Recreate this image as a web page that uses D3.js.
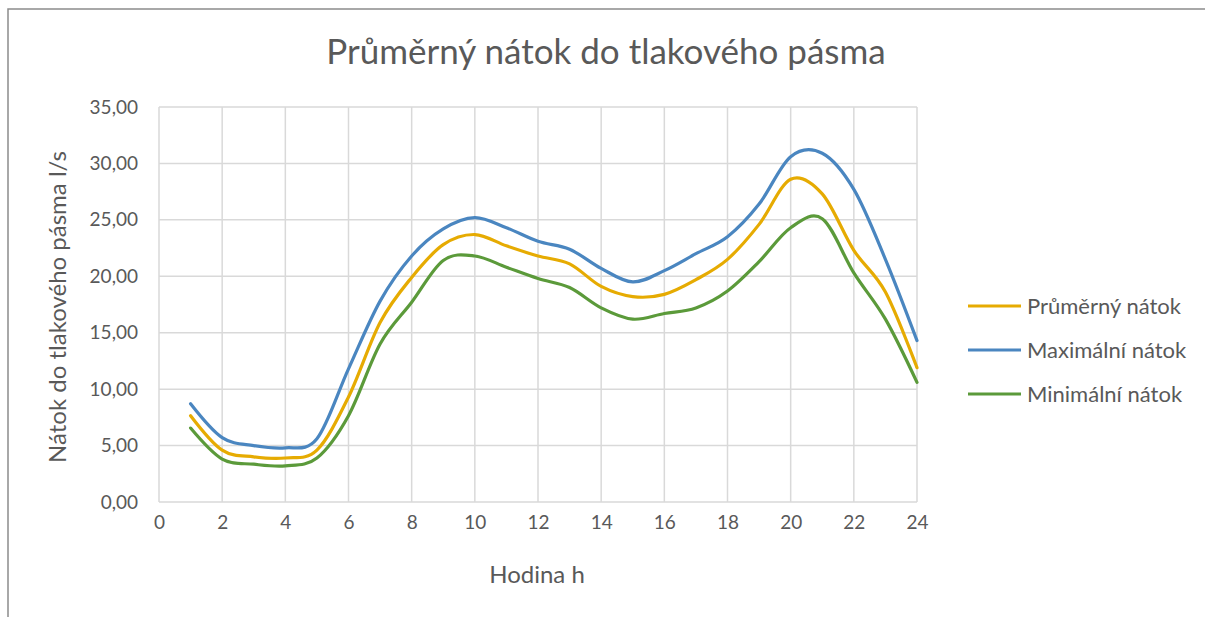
<!DOCTYPE html>
<html>
<head>
<meta charset="utf-8">
<script src="https://cdn.jsdelivr.net/npm/d3@7"></script>
<style>
  body { margin: 0; background: #fff; }
  text { font-family: Lato, "Open Sans", sans-serif; fill: #595959; }
</style>
</head>
<body>
<script>
// hourly values
const hours = d3.range(1, 25);
const prumerny = [7.65, 4.6, 4.0, 3.9, 4.6, 9.3, 15.9, 19.9, 22.8, 23.7, 22.7, 21.8, 21.1, 19.1, 18.2, 18.4, 19.7, 21.5, 24.6, 28.6, 27.3, 22.3, 18.6, 11.9];
const maximalni = [8.7, 5.7, 5.0, 4.8, 5.6, 11.8, 17.8, 21.8, 24.2, 25.2, 24.3, 23.1, 22.4, 20.7, 19.5, 20.5, 22.0, 23.5, 26.4, 30.6, 30.9, 27.7, 21.5, 14.3];
const minimalni = [6.55, 3.8, 3.35, 3.2, 3.9, 7.65, 14.0, 17.7, 21.4, 21.8, 20.8, 19.8, 19.0, 17.2, 16.2, 16.7, 17.2, 18.7, 21.3, 24.3, 25.1, 20.3, 16.2, 10.6];

const series = [
  { name: "Průměrný nátok", values: prumerny, color: "#e6ab02" },
  { name: "Maximální nátok", values: maximalni, color: "#4a86c0" },
  { name: "Minimální nátok", values: minimalni, color: "#5b9a3a" }
];
const xTicks = d3.range(0, 25, 2);
const yTicks = d3.range(0, 36, 5);

const width = 1205, height = 617;
const plotL = 159, plotR = 917, plotT = 107, plotB = 502;

const svg = d3.select("body").append("svg")
  .attr("width", width)
  .attr("height", height);

// outer frame (only top and left edges are visible in the crop)
svg.append("path")
  .attr("d", `M8,${height} L8,9 L${width},9`)
  .attr("fill", "none")
  .attr("stroke", "#8c8c8c")
  .attr("stroke-width", 1.5);

const x = d3.scaleLinear().domain([0, 24]).range([plotL, plotR]);
const y = d3.scaleLinear().domain([0, 35]).range([plotB, plotT]);

// grid
const grid = svg.append("g").attr("stroke", "#d9d9d9").attr("stroke-width", 1.5);
grid.selectAll("line.h").data(yTicks).join("line")
  .attr("x1", plotL).attr("x2", plotR)
  .attr("y1", d => y(d)).attr("y2", d => y(d));
grid.selectAll("line.v").data(xTicks).join("line")
  .attr("y1", plotT).attr("y2", plotB)
  .attr("x1", d => x(d)).attr("x2", d => x(d));

// axes
const fmt = d => d3.format(".2f")(d).replace(".", ",");
const yAxis = svg.append("g")
  .attr("transform", `translate(${plotL},0)`)
  .call(d3.axisLeft(y).tickValues(yTicks).tickFormat(fmt).tickSize(0).tickPadding(21));
yAxis.select(".domain").remove();
yAxis.selectAll("text").style("font-size", "19px").attr("fill", "#595959");

const xAxis = svg.append("g")
  .attr("transform", `translate(0,${plotB})`)
  .call(d3.axisBottom(x).tickValues(xTicks).tickFormat(d3.format("d")).tickSize(0).tickPadding(14));
xAxis.select(".domain").remove();
xAxis.selectAll("text").style("font-size", "19px").attr("fill", "#595959");

// lines
const line = d3.line()
  .x((d, i) => x(hours[i]))
  .y(d => y(d))
  .curve(d3.curveCatmullRom.alpha(0));

svg.append("g").selectAll("path").data(series).join("path")
  .attr("d", d => line(d.values))
  .attr("fill", "none")
  .attr("stroke", d => d.color)
  .attr("stroke-width", 3.2)
  .attr("stroke-linecap", "round");

// title
svg.append("text")
  .attr("x", 606).attr("y", 64)
  .attr("text-anchor", "middle")
  .style("font-size", "35px")
  .text("Průměrný nátok do tlakového pásma");

// axis titles
svg.append("text")
  .attr("x", 537).attr("y", 583)
  .attr("text-anchor", "middle")
  .style("font-size", "24px")
  .text("Hodina h");

svg.append("text")
  .attr("transform", "translate(66,307) rotate(-90)")
  .attr("text-anchor", "middle")
  .style("font-size", "24px")
  .text("Nátok do tlakového pásma l/s");

// legend
const legend = svg.append("g").selectAll("g").data(series).join("g")
  .attr("transform", (d, i) => `translate(968,${306 + i * 44})`);
legend.append("line")
  .attr("x1", 0).attr("x2", 53)
  .attr("stroke", d => d.color)
  .attr("stroke-width", 3.2);
legend.append("text")
  .attr("x", 59).attr("dy", "0.35em")
  .style("font-size", "22px")
  .text(d => d.name);
</script>
</body>
</html>
